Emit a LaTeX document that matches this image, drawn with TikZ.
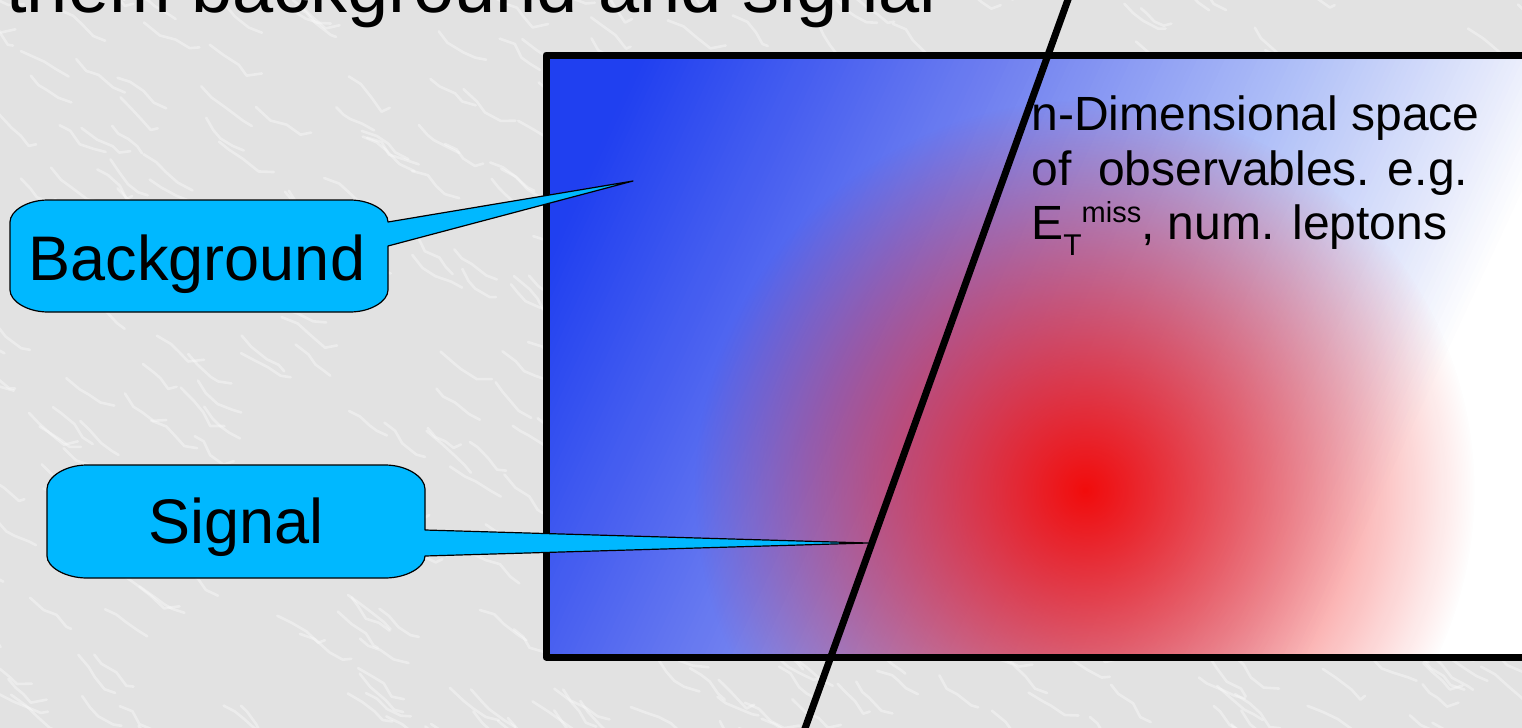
\documentclass[tikz,border=0pt]{standalone}
\usepackage{fontspec}
\setmainfont{Liberation Sans}
\usetikzlibrary{fadings}
\definecolor{bgray}{RGB}{226,226,226}
\definecolor{callblue}{RGB}{0,184,255}
\definecolor{redc}{RGB}{242,12,12}
\tikzfading[name=redfade, inner color=transparent!0, outer color=transparent!100]
\begin{document}
\begin{tikzpicture}[x=0.5pt,y=-0.5pt,
  callout/.style={fill=callblue,draw=black,line width=0.6pt,line join=round},
  calltext/.style={font=\fontsize{31.5}{36}\selectfont,inner sep=0pt,anchor=base},
  bodytext/.style={font=\fontsize{24}{28}\selectfont,inner sep=0pt,anchor=base west},
  titletext/.style={font=\fontsize{37}{42}\selectfont,inner sep=0pt,anchor=base west},
  heavy/.style={line width=3.5pt,draw=black},
  vein/.style={white,opacity=0.35,line width=1.3pt,line join=round,line cap=round}]
\useasboundingbox (0,0) rectangle (1522,728);
\clip (0,0) rectangle (1522,728);
% marble-like background
\fill[bgray] (0,0) rectangle (1522,728);
\pgfmathsetseed{12}
\foreach \i in {1,...,520}{
  \draw[vein] ({rnd*1620-80},{rnd*800-50}) -- ++({6+10*rnd},{4+10*rnd}) -- ++({6+10*rnd},{4+10*rnd}) -- ++({6+10*rnd},{4+10*rnd}) -- ++({4+12*rnd},{-4+12*rnd});
}
% title line (cut at top)
\node[titletext] (title) at (6,12) {them background and signal};
% observable space
\begin{scope}
  \clip (546,55) rectangle (1640,657);
  \begin{scope}[rotate=-25]
    \foreach \u in {480,485,...,1760}{
      \pgfmathsetmacro\ca{min(max((\u-600)/331,0),1)}
      \pgfmathsetmacro\cb{min(max((\u-931)/272,0),1)}
      \pgfmathsetmacro\cc{min(max((\u-1203)/190,0),1)}
      \pgfmathsetmacro\cd{min(max((\u-1393)/67,0),1)}
      \pgfmathtruncatemacro\R{32+80*\ca+64*\cb+56*\cc+23*\cd}
      \pgfmathtruncatemacro\G{64+64*\ca+64*\cb+44*\cc+19*\cd}
      \pgfmathtruncatemacro\B{240+0*\ca+8*\cb+4*\cc+3*\cd}
      \definecolor{stripc}{RGB}{\R,\G,\B}
      \fill[stripc] (\u,-800) rectangle (1900,600);
    }
  \end{scope}
  \coordinate (redcenter) at (1085,490);
  \fill[redc,path fading=redfade] (redcenter) circle (390);
\end{scope}
\draw[heavy,line join=round] (546,55) rectangle (1640,657);
% text inside
\node[bodytext] (l1) at (1031,130) {n-Dimensional space};
\node[bodytext] (l2) at (1031,185) {of\ \ observables. e.g.};
\node[bodytext] (l3) at (1031,239) {E\raisebox{-8pt}{\fontsize{15}{16}\selectfont T}\raisebox{8.5pt}{\fontsize{14.5}{16}\selectfont miss}, num. leptons};
% cut line
\coordinate (ltop) at (1070,-6);
\coordinate (lbot) at (803,734);
\draw[heavy] (ltop) -- (lbot);
% callouts
\coordinate (bgtip) at (633,181);
\coordinate (sigtip) at (868,543);
\path[callout] (48,200) -- (350,200) .. controls (371,200) and (388,211) .. (388,222) -- (bgtip) -- (388,246) -- (388,290) .. controls (388,301) and (371,312) .. (350,312) -- (48,312) .. controls (27,312) and (10,301) .. (10,290) -- (10,222) .. controls (10,211) and (27,200) .. (48,200) -- cycle;
\node[calltext] (bgtext) at (197,280) {Background};
\path[callout] (87,465) -- (385,465) .. controls (407,465) and (425,477) .. (425,489) -- (425,530) -- (sigtip) -- (425,556) .. controls (425,567) and (407,578) .. (385,578) -- (87,578) .. controls (65,578) and (47,567) .. (47,556) -- (47,489) .. controls (47,477) and (65,465) .. (87,465) -- cycle;
\node[calltext] (sigtext) at (236,543) {Signal};
\end{tikzpicture}
\end{document}
